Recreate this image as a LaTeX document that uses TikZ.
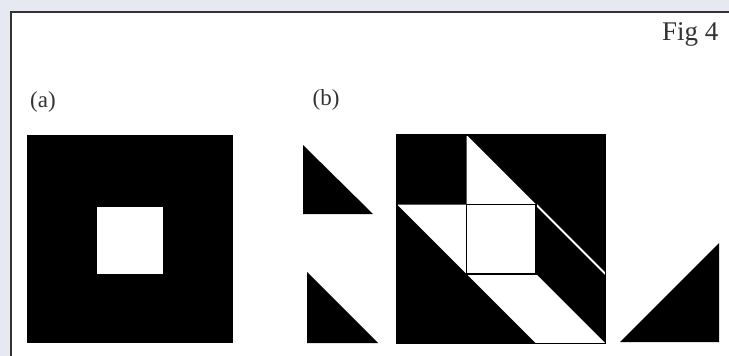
\documentclass[tikz,border=0pt]{standalone}
\usepackage{fontspec}
\setmainfont{Liberation Serif}
\definecolor{outside}{HTML}{E6EAF0}
\definecolor{framecol}{HTML}{333333}
\begin{document}
\begin{tikzpicture}[x=1pt,y=-1pt,
  lbl/.style={inner sep=0pt, font=\fontsize{23}{26}\selectfont, text=black!80},
  figlbl/.style={inner sep=0pt, font=\fontsize{27}{30}\selectfont, text=black!80},
  blk/.style={fill=black, draw=none},
  wht/.style={fill=white, draw=none}]
\useasboundingbox (0,0) rectangle (729,356);
\fill[outside] (0,0) rectangle (729,356);
\fill[white] (11,12) rectangle (729,356);
\draw[framecol, line width=2pt] (11,356) -- (11,12) -- (729,12);
% labels
\node[figlbl, anchor=base west] (fig) at (662,40) {Fig 4};
\node[lbl] (la) at (43,102) {(a)};
\node[lbl] (lb) at (326,100) {(b)};
% (a) square with hole
\fill[blk] (27,135) rectangle (233,343);
\fill[wht] (97,207) rectangle (163,274);
% (b) small triangles
\fill[blk] (303,145) -- (303,214) -- (373,214) -- cycle;
\fill[blk] (307,272) -- (307,343) -- (378,343) -- cycle;
% (b) big square, unit 69.5
\begin{scope}[shift={(397,135)}, x=69.5pt, y=-69.5pt]
  \fill[blk] (0,0) rectangle (3,3);
  \fill[wht] (1,0) -- (2,1) -- (2,2) -- (3,3) -- (2,3) -- (0,1) -- (1,1) -- cycle;
  \draw[white, line width=2pt] (2,1) -- (3,2);
  \draw[black, line width=1.3pt] (1,1) rectangle (2,2);
  \draw[black, line width=1.2pt] (0,0) rectangle (3,3);
\end{scope}
% right triangle
\fill[blk] (620,342) -- (719,243) -- (719,342) -- cycle;
\end{tikzpicture}
\end{document}
